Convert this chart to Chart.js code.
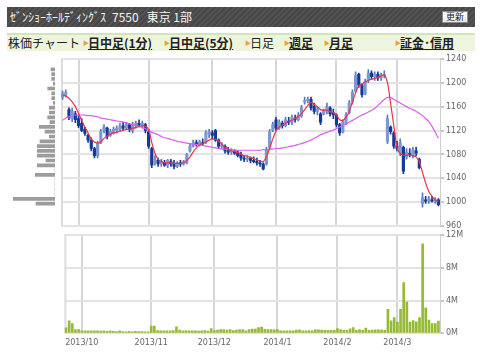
<!DOCTYPE html>
<html>
<head>
<meta charset="utf-8">
<script src="https://cdn.jsdelivr.net/npm/chart.js@4.4.1/dist/chart.umd.min.js"></script>
<style>
  html, body { margin: 0; padding: 0; background: #fff; }
  #wrap { position: relative; width: 480px; height: 355px; overflow: hidden; font-family: "Noto Sans CJK JP", sans-serif; }
  .head {
    position: absolute; left: 7px; top: 7px; width: 468px; height: 20px;
    background: repeating-linear-gradient(135deg, #525252 0 2px, #474747 2px 4px);
  }
  .head .ttl { position: absolute; left: 3px; top: 0; line-height: 20px; font-size: 12px; color: #f2f2f2; white-space: nowrap; }
  .head .ttl span { margin-left: 6px; }
  .head .btn {
    position: absolute; left: 435px; top: 4px; width: 26px; height: 12px; box-sizing: border-box;
    background: linear-gradient(#ffffff, #e6e6e6); border: 1px solid #8a8a8a;
    font-size: 9px; line-height: 10px; text-align: center; color: #222;
  }
  .nav {
    position: absolute; left: 7px; top: 33px; width: 468px; height: 16px;
    background: #eef5dd; border-top: 2px solid #d3e4b6;
  }
  .nav span { position: absolute; top: 0; line-height: 16px; font-size: 12px; color: #222; white-space: nowrap; }
  .nav .lk { font-weight: bold; text-decoration: underline; }
  .nav .tri { font-size: 6px; color: #f0a030; }
  canvas { position: absolute; }
</style>
</head>
<body>
<div id="wrap">
  <div class="head"><div class="ttl">ｾﾞﾝｼｮｰﾎｰﾙﾃﾞｨﾝｸﾞｽ<span>7550</span><span style="margin-left:8px">東京 1部</span></div><div class="btn">更新</div></div>
  <div class="nav">
    <span style="left:1px">株価チャート</span>
    <span class="tri" style="left:76px">▶</span><span class="lk" style="left:81px">日中足(1分)</span>
    <span class="tri" style="left:157px">▶</span><span class="lk" style="left:162px">日中足(5分)</span>
    <span class="tri" style="left:238px">▶</span><span style="left:243px">日足</span>
    <span class="tri" style="left:277px">▶</span><span class="lk" style="left:282px">週足</span>
    <span class="tri" style="left:317px">▶</span><span class="lk" style="left:322px">月足</span>
    <span class="tri" style="left:388px">▶</span><span class="lk" style="left:393px">証金･信用</span>
  </div>
  <canvas id="prof" width="56" height="181" style="left:-1px; top:52px"></canvas>
  <canvas id="price" width="419" height="181" style="left:61px; top:52px"></canvas>
  <canvas id="vol" width="419" height="127" style="left:61px; top:228px"></canvas>
</div>
<script>
// trading days
const months = ["2013/9", "2013/10", "2013/11", "2013/12", "2014/1", "2014/2", "2014/3"];
const monthDays = [
  [24, 25, 26, 27, 30],
  [1, 2, 3, 4, 7, 8, 9, 10, 11, 15, 16, 17, 18, 21, 22, 23, 24, 25, 28, 29, 30, 31],
  [1, 5, 6, 7, 8, 11, 12, 13, 14, 15, 18, 19, 20, 21, 22, 25, 26, 27, 28, 29],
  [2, 3, 4, 5, 6, 9, 10, 11, 12, 13, 16, 17, 18, 19, 20, 24, 25, 26, 27, 30],
  [6, 7, 8, 9, 10, 14, 15, 16, 17, 20, 21, 22, 23, 24, 27, 28, 29, 30, 31],
  [3, 4, 5, 6, 7, 10, 12, 13, 14, 17, 18, 19, 20, 21, 24, 25, 26, 27, 28],
  [3, 4, 5, 6, 7, 10, 11, 12, 13, 14, 17, 18, 19, 20]
];

const open = [
  1176, 1180, 1155, 1140, 1148,
  1140, 1132, 1122, 1112, 1104,
  1090, 1078, 1100, 1120, 1124,
  1112, 1116, 1120, 1122, 1128,
  1125, 1130, 1120, 1128, 1132,
  1128, 1130, 1118, 1090, 1066,
  1070, 1064, 1066, 1062, 1068,
  1064, 1060, 1066, 1064, 1066,
  1086, 1094, 1100, 1098, 1100,
  1100, 1114, 1116, 1120, 1104,
  1094, 1094, 1088, 1084, 1086,
  1084, 1080, 1074, 1072, 1074,
  1070, 1068, 1066, 1064, 1064,
  1092, 1120, 1138, 1124, 1132,
  1128, 1136, 1134, 1140, 1138,
  1144, 1168, 1170, 1172, 1160,
  1152, 1148, 1148, 1152, 1158,
  1150, 1146, 1130, 1118, 1132,
  1150, 1168, 1186, 1214, 1196,
  1182, 1204, 1216, 1210, 1214,
  1208, 1212, 1102, 1126, 1116,
  1094, 1082, 1092, 1076, 1082,
  1078, 1086, 1072, 998, 1004,
  1002, 1004, 1002, 1004
];
const high = [
  1186, 1188, 1158, 1157, 1152,
  1145, 1140, 1126, 1114, 1108,
  1092, 1102, 1122, 1130, 1126,
  1122, 1126, 1128, 1132, 1134,
  1134, 1132, 1134, 1136, 1138,
  1136, 1132, 1122, 1092, 1078,
  1074, 1072, 1070, 1072, 1072,
  1070, 1068, 1070, 1070, 1082,
  1098, 1104, 1104, 1104, 1106,
  1120, 1122, 1120, 1122, 1106,
  1100, 1096, 1092, 1090, 1088,
  1086, 1084, 1078, 1078, 1076,
  1076, 1074, 1070, 1066, 1092,
  1122, 1134, 1142, 1138, 1136,
  1142, 1142, 1146, 1146, 1150,
  1162, 1176, 1176, 1176, 1166,
  1160, 1150, 1156, 1166, 1160,
  1156, 1148, 1132, 1138, 1150,
  1170, 1188, 1218, 1216, 1198,
  1206, 1222, 1220, 1218, 1218,
  1216, 1220, 1146, 1128, 1118,
  1102, 1106, 1094, 1090, 1090,
  1092, 1092, 1074, 1016, 1010,
  1010, 1010, 1008, 1006
];
const low = [
  1172, 1176, 1138, 1135, 1133,
  1125, 1118, 1112, 1100, 1086,
  1074, 1074, 1098, 1116, 1106,
  1110, 1114, 1116, 1120, 1120,
  1122, 1118, 1116, 1124, 1126,
  1124, 1116, 1090, 1058, 1062,
  1060, 1060, 1060, 1058, 1060,
  1056, 1058, 1060, 1062, 1064,
  1084, 1092, 1094, 1094, 1096,
  1098, 1108, 1106, 1102, 1090,
  1090, 1082, 1080, 1080, 1080,
  1076, 1070, 1068, 1068, 1066,
  1066, 1062, 1060, 1054, 1062,
  1090, 1118, 1120, 1122, 1124,
  1126, 1130, 1130, 1134, 1136,
  1142, 1164, 1166, 1154, 1148,
  1146, 1130, 1146, 1148, 1144,
  1140, 1126, 1112, 1116, 1130,
  1148, 1164, 1184, 1192, 1176,
  1180, 1200, 1206, 1204, 1204,
  1204, 1208, 1098, 1114, 1090,
  1086, 1078, 1048, 1072, 1076,
  1074, 1078, 1056, 992, 998,
  998, 1000, 998, 994
];
const close = [
  1182, 1184, 1142, 1152, 1138,
  1128, 1120, 1115, 1104, 1090,
  1078, 1098, 1118, 1126, 1110,
  1118, 1122, 1124, 1128, 1124,
  1130, 1122, 1130, 1132, 1130,
  1132, 1120, 1094, 1062, 1072,
  1064, 1068, 1062, 1070, 1064,
  1060, 1066, 1064, 1068, 1080,
  1094, 1100, 1098, 1102, 1098,
  1116, 1118, 1112, 1104, 1094,
  1096, 1086, 1084, 1086, 1082,
  1078, 1074, 1072, 1074, 1070,
  1068, 1066, 1064, 1056, 1088,
  1118, 1130, 1124, 1134, 1128,
  1138, 1134, 1142, 1138, 1146,
  1158, 1170, 1172, 1158, 1152,
  1156, 1134, 1154, 1160, 1148,
  1146, 1130, 1116, 1134, 1146,
  1166, 1184, 1212, 1196, 1180,
  1202, 1216, 1210, 1214, 1208,
  1212, 1214, 1140, 1118, 1094,
  1090, 1100, 1052, 1084, 1080,
  1088, 1082, 1058, 1008, 1002,
  1006, 1002, 1004, 996
];
// short moving average (red) and long moving average (violet)
const maShort = [
  1179, 1178, 1174, 1168, 1160,
  1149, 1137, 1126, 1116, 1106,
  1101, 1099, 1101, 1107, 1111,
  1114, 1116, 1117, 1119, 1120,
  1122, 1122, 1124, 1125, 1127,
  1128, 1127, 1122, 1100, 1082,
  1072, 1068, 1066, 1066, 1066,
  1065, 1065, 1065, 1066, 1070,
  1076, 1084, 1091, 1096, 1099,
  1101, 1104, 1106, 1105, 1102,
  1097, 1092, 1089, 1086, 1085,
  1083, 1080, 1078, 1077, 1075,
  1073, 1071, 1069, 1068, 1076,
  1090, 1106, 1119, 1126, 1129,
  1132, 1135, 1137, 1140, 1144,
  1148, 1155, 1162, 1167, 1164,
  1160, 1155, 1154, 1154, 1152,
  1150, 1146, 1138, 1137, 1142,
  1152, 1168, 1183, 1195, 1198,
  1201, 1204, 1206, 1207, 1209,
  1211, 1213, 1200, 1165, 1128,
  1092, 1082, 1079, 1079, 1079,
  1078, 1076, 1068, 1050, 1032,
  1018, 1010, 1004, 1001
];
const maLong = [
  1137, 1141, 1143, 1145, 1146,
  1146, 1146, 1146, 1145, 1145,
  1144, 1143, 1141, 1140, 1139,
  1138, 1137, 1136, 1135, 1134,
  1133, 1131, 1130, 1129, 1127,
  1125, 1123, 1120, 1117, 1115,
  1113, 1110, 1108, 1107, 1105,
  1104, 1102, 1101, 1100, 1099,
  1098, 1097, 1097, 1096, 1095,
  1094, 1093, 1092, 1091, 1090,
  1089, 1089, 1088, 1088, 1087,
  1087, 1087, 1087, 1087, 1087,
  1087, 1087, 1087, 1088, 1088,
  1089, 1089, 1090, 1090, 1091,
  1092, 1093, 1094, 1095, 1097,
  1098, 1100, 1102, 1104, 1107,
  1110, 1113, 1115, 1117, 1119,
  1121, 1123, 1126, 1128, 1131,
  1134, 1137, 1140, 1143, 1146,
  1148, 1151, 1154, 1157, 1162,
  1167, 1172, 1175, 1175, 1172,
  1169, 1166, 1163, 1160, 1157,
  1155, 1152, 1149, 1145, 1140,
  1135, 1127, 1117, 1107
];
// daily volume, millions of shares
const volume = [
  0.69, 1.53, 1.2, 0.48, 0.48,
  0.32, 0.3, 0.3, 0.32, 0.3,
  0.3, 0.28, 0.3, 0.25, 0.3,
  0.25, 0.22, 0.3, 0.22, 0.2,
  0.25, 0.2, 0.25, 0.22, 0.22,
  0.2, 0.2, 0.9, 0.9, 0.35,
  0.3, 0.3, 0.32, 0.3, 0.35,
  0.8, 0.4, 0.32, 0.35, 0.3,
  0.3, 0.32, 0.28, 0.3, 0.35,
  0.28, 0.6, 0.35, 0.4, 0.45,
  0.45, 0.4, 0.45, 0.35, 0.4,
  0.48, 0.48, 0.32, 0.48, 0.52,
  0.52, 0.7, 0.77, 0.5, 0.45,
  0.45, 0.42, 0.45, 0.3, 0.32,
  0.3, 0.32, 0.3, 0.4, 0.44,
  0.3, 0.3, 0.35, 0.3, 0.44,
  0.44, 0.4, 0.36, 0.36, 0.36,
  0.36, 0.6, 0.48, 0.36, 0.36,
  0.56, 0.7, 0.36, 0.48, 0.36,
  0.65, 0.36, 0.4, 0.44, 0.44,
  0.44, 0.36, 2.94, 1.53, 1.94,
  1.37, 2.94, 6.2, 3.8, 1.37,
  1.57, 1.41, 1.94, 10.9, 3.1,
  1.61, 1.21, 1.21, 1.49
];
// volume by price (left histogram)
const profPrice = [1222, 1214, 1206, 1198, 1190, 1182, 1174, 1166, 1158, 1150, 1142, 1134, 1126, 1118, 1110,
  1102, 1094, 1086, 1078, 1070, 1062, 1054, 1046, 1038, 1030, 1022, 1014, 1006, 998];
const profVol = [4, 3.3, 3.3, 1.7, 7.3, 3.3, 3.3, 1.7, 5.7, 5.7, 7.3, 5, 15.7, 10, 5.7,
  15, 17.7, 17.7, 17.7, 9, 17.7, 0, 19.7, 0, 0, 0, 0, 41.7, 19];

const labels = [];
const monthTick = [];
months.forEach((m, mi) => {
  monthDays[mi].forEach((d, di) => {
    labels.push(m + "/" + d);
    monthTick.push(mi > 0 && di === 0 ? m : "");
  });
});

const UP = "#7b99d0", DOWN = "#143a98";
const candleColor = open.map((o, i) => (close[i] >= o ? UP : DOWN));
const wickColor = open.map((o, i) => (close[i] >= o ? "#5a78b8" : DOWN));

const tickFont = { family: "DejaVu Sans", size: 8 };
const gridX = {
  offset: false,
  drawTicks: false,
  lineWidth: 2,
  color: (c) => (monthTick[c.index] ? "#d6d6d6" : "rgba(0,0,0,0)")
};

// left edge of each panel
const frame = {
  id: "frame",
  beforeDatasetsDraw(chart) {
    const a = chart.chartArea, ctx = chart.ctx;
    ctx.save();
    ctx.strokeStyle = "#dcdcdc";
    ctx.lineWidth = 2;
    ctx.beginPath();
    ctx.moveTo(a.left + 1, a.bottom);
    ctx.lineTo(a.left + 1, a.top);
    ctx.stroke();
    ctx.restore();
  }
};

new Chart(document.getElementById("price"), {
  type: "bar",
  data: {
    labels: labels,
    datasets: [
      { type: "line", data: maShort, borderColor: "#e8344e", borderWidth: 1.2, pointRadius: 0, tension: 0.3, order: 0 },
      { type: "line", data: maLong, borderColor: "#dc5cf0", borderWidth: 1.2, pointRadius: 0, tension: 0.3, order: 0 },
      { data: open.map((o, i) => [o, close[i]]), backgroundColor: candleColor, barThickness: 2.5, grouped: false, order: 1, minBarLength: 1 },
      { data: low.map((l, i) => [l, high[i]]), backgroundColor: wickColor, barThickness: 1, grouped: false, order: 2 }
    ]
  },
  options: {
    responsive: false,
    animation: false,
    layout: { padding: { top: 6.5, bottom: 6.5, left: 0, right: 0 } },
    plugins: { legend: { display: false }, tooltip: { enabled: false } },
    scales: {
      x: {
        grid: gridX,
        border: { display: false },
        ticks: { display: false, autoSkip: false },
        afterFit: (s) => { s.height = 0; }
      },
      y: {
        position: "right",
        min: 960, max: 1240,
        grid: { color: "#e3e3e3", lineWidth: 2, tickLength: 4, tickColor: "#c8c8c8" },
        border: { display: true, color: "#cfcfcf" },
        ticks: { stepSize: 40, font: tickFont, color: "#666", padding: 2, callback: (v) => String(v) },
        afterFit: (s) => { s.width = 40; }
      }
    }
  },
  plugins: [frame]
});

new Chart(document.getElementById("vol"), {
  type: "bar",
  data: {
    labels: labels,
    datasets: [{ data: volume, backgroundColor: "#94bb33", barThickness: 2 }]
  },
  options: {
    responsive: false,
    animation: false,
    layout: { padding: { top: 4, bottom: 2, left: 0, right: 0 } },
    plugins: { legend: { display: false }, tooltip: { enabled: false } },
    scales: {
      x: {
        grid: gridX,
        border: { display: false },
        ticks: {
          autoSkip: false, maxRotation: 0, font: tickFont, color: "#666", padding: 5,
          callback: (v, i) => monthTick[i]
        }
      },
      y: {
        position: "right",
        min: 0, max: 12,
        grid: { color: "#e3e3e3", lineWidth: 2, tickLength: 4, tickColor: "#c8c8c8" },
        border: { display: true, color: "#cfcfcf" },
        ticks: { stepSize: 4, font: tickFont, color: "#666", padding: 2, callback: (v) => v + "M" },
        afterFit: (s) => { s.width = 40; }
      }
    }
  },
  plugins: [frame]
});

new Chart(document.getElementById("prof"), {
  type: "bar",
  data: {
    datasets: [{
      data: profPrice.map((p, i) => ({ x: profVol[i], y: p })),
      backgroundColor: "#9c9c9c",
      barThickness: 3
    }]
  },
  options: {
    indexAxis: "y",
    responsive: false,
    animation: false,
    layout: { padding: { top: 6.5, bottom: 6.5, left: 0, right: 0 } },
    plugins: { legend: { display: false }, tooltip: { enabled: false } },
    scales: {
      y: { type: "linear", min: 960, max: 1240, offset: false, display: false },
      x: { min: 0, max: 56, reverse: true, display: false }
    }
  }
});
</script>
</body>
</html>
